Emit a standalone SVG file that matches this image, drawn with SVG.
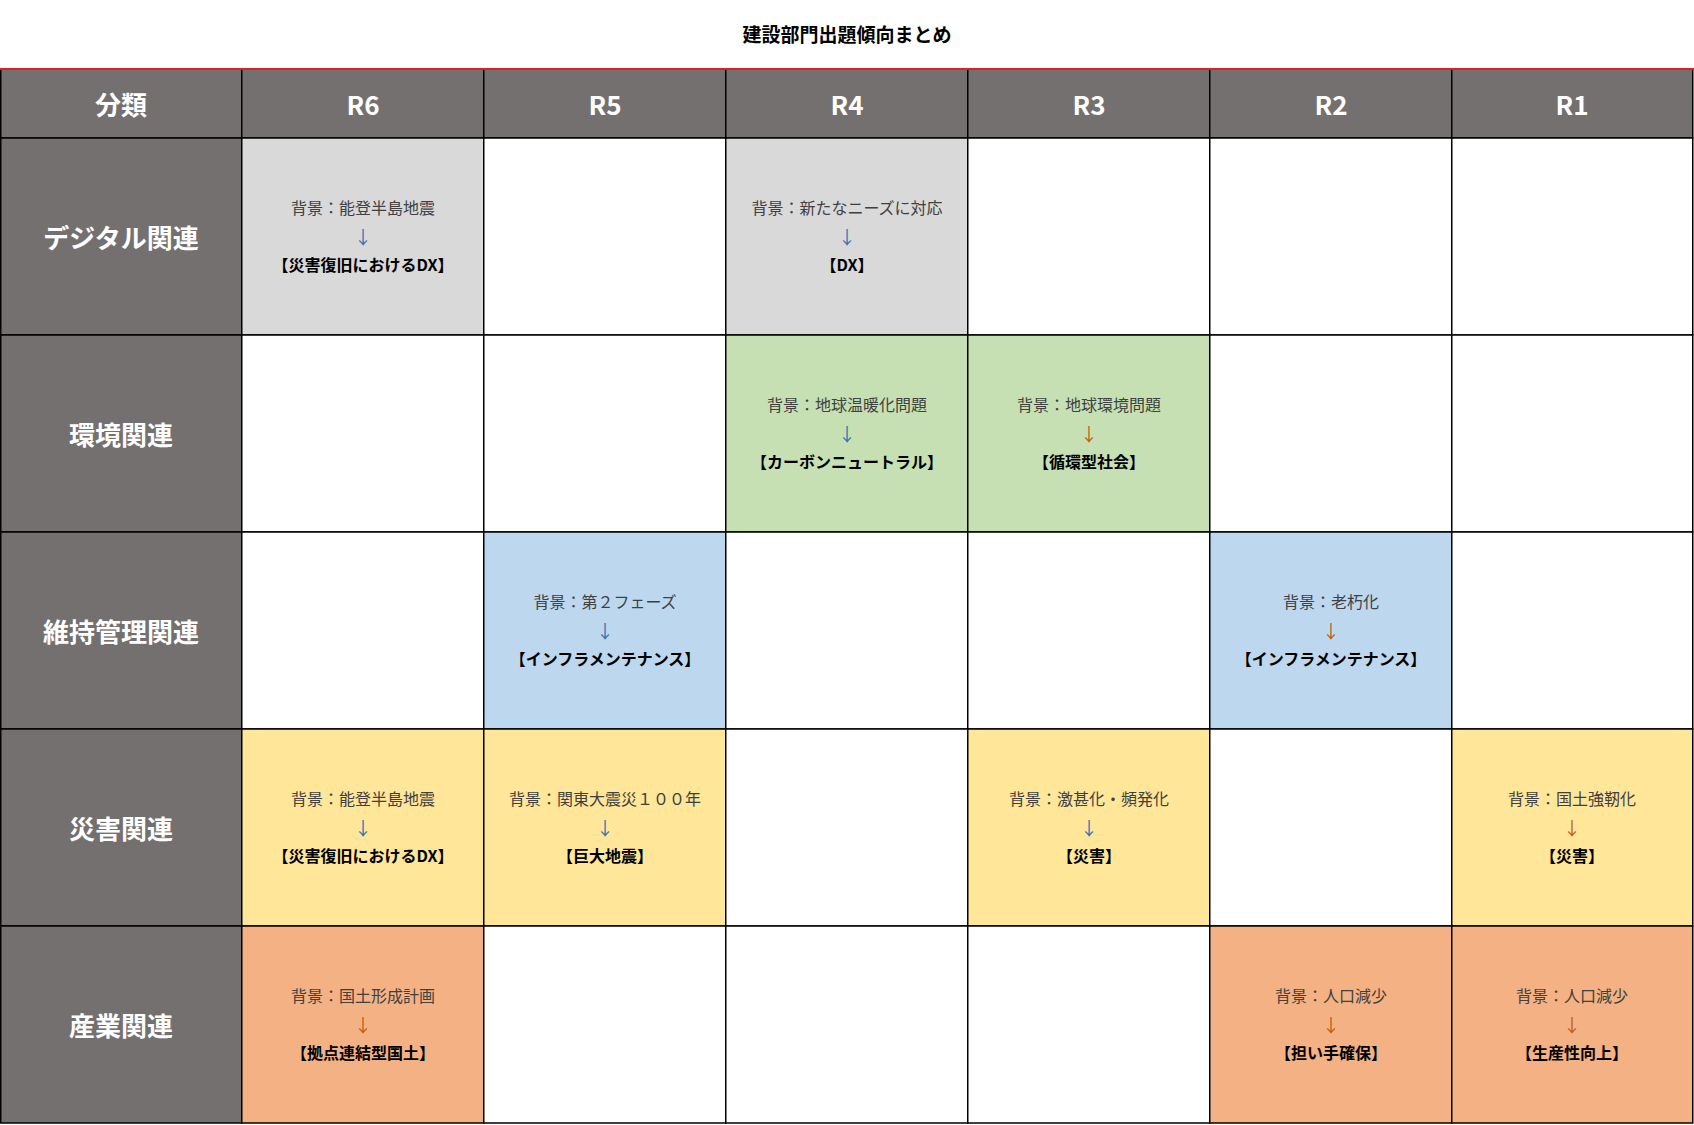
<svg xmlns="http://www.w3.org/2000/svg" width="1694" height="1125" viewBox="0 0 1694 1125">
<style>
text{font-family:"Noto Sans CJK JP","Noto Sans",sans-serif;text-anchor:middle;dominant-baseline:central}
.h{fill:#757070;stroke:#000;stroke-width:1.5}
.c{stroke:#000;stroke-width:1.5}
.ht{fill:#fff;font-size:26px;font-weight:bold}
.bg{fill:#404040;font-size:16px}
.ab{fill:#2e75b6;font-size:18px}
.ao{fill:#c55a11;font-size:18px}
.k{fill:#000;font-size:16px;font-weight:bold}
.g{fill:#d9d9d9}.gr{fill:#c6e0b4}.b{fill:#bdd7ee}.y{fill:#ffe699}.o{fill:#f4b183}.w{fill:#fff}
</style>
<rect width="1694" height="1125" fill="#fff"/>
<text x="847" y="33" style="font-size:19px;font-weight:bold;fill:#000">建設部門出題傾向まとめ</text>
<g id="header">
<rect class="h" x="0.75" y="69" width="241" height="69"/><text class="ht" x="121" y="103">分類</text>
<rect class="h" x="241.75" y="69" width="242" height="69"/><text class="ht" x="363" y="103">R6</text>
<rect class="h" x="483.75" y="69" width="242" height="69"/><text class="ht" x="605" y="103">R5</text>
<rect class="h" x="725.75" y="69" width="242" height="69"/><text class="ht" x="847" y="103">R4</text>
<rect class="h" x="967.75" y="69" width="242" height="69"/><text class="ht" x="1089" y="103">R3</text>
<rect class="h" x="1209.75" y="69" width="242" height="69"/><text class="ht" x="1331" y="103">R2</text>
<rect class="h" x="1451.75" y="69" width="241" height="69"/><text class="ht" x="1572" y="103">R1</text>
<line x1="0" y1="69" x2="1694" y2="69" stroke="#e02020" stroke-width="2"/>
</g>
<g id="rowlabels">
<rect class="h" x="0.75" y="138" width="241" height="197"/><text class="ht" x="121" y="236">デジタル関連</text>
<rect class="h" x="0.75" y="335" width="241" height="197"/><text class="ht" x="121" y="433">環境関連</text>
<rect class="h" x="0.75" y="532" width="241" height="197"/><text class="ht" x="121" y="630">維持管理関連</text>
<rect class="h" x="0.75" y="729" width="241" height="197"/><text class="ht" x="121" y="827">災害関連</text>
<rect class="h" x="0.75" y="926" width="241" height="197"/><text class="ht" x="121" y="1024">産業関連</text>
</g>
<g id="cells">
<!-- row 1 -->
<rect class="c g" x="241.75" y="138" width="242" height="197"/>
<rect class="c w" x="483.75" y="138" width="242" height="197"/>
<rect class="c g" x="725.75" y="138" width="242" height="197"/>
<rect class="c w" x="967.75" y="138" width="242" height="197"/>
<rect class="c w" x="1209.75" y="138" width="242" height="197"/>
<rect class="c w" x="1451.75" y="138" width="241" height="197"/>
<!-- row 2 -->
<rect class="c w" x="241.75" y="335" width="242" height="197"/>
<rect class="c w" x="483.75" y="335" width="242" height="197"/>
<rect class="c gr" x="725.75" y="335" width="242" height="197"/>
<rect class="c gr" x="967.75" y="335" width="242" height="197"/>
<rect class="c w" x="1209.75" y="335" width="242" height="197"/>
<rect class="c w" x="1451.75" y="335" width="241" height="197"/>
<!-- row 3 -->
<rect class="c w" x="241.75" y="532" width="242" height="197"/>
<rect class="c b" x="483.75" y="532" width="242" height="197"/>
<rect class="c w" x="725.75" y="532" width="242" height="197"/>
<rect class="c w" x="967.75" y="532" width="242" height="197"/>
<rect class="c b" x="1209.75" y="532" width="242" height="197"/>
<rect class="c w" x="1451.75" y="532" width="241" height="197"/>
<!-- row 4 -->
<rect class="c y" x="241.75" y="729" width="242" height="197"/>
<rect class="c y" x="483.75" y="729" width="242" height="197"/>
<rect class="c w" x="725.75" y="729" width="242" height="197"/>
<rect class="c y" x="967.75" y="729" width="242" height="197"/>
<rect class="c w" x="1209.75" y="729" width="242" height="197"/>
<rect class="c y" x="1451.75" y="729" width="241" height="197"/>
<!-- row 5 -->
<rect class="c o" x="241.75" y="926" width="242" height="197"/>
<rect class="c w" x="483.75" y="926" width="242" height="197"/>
<rect class="c w" x="725.75" y="926" width="242" height="197"/>
<rect class="c w" x="967.75" y="926" width="242" height="197"/>
<rect class="c o" x="1209.75" y="926" width="242" height="197"/>
<rect class="c o" x="1451.75" y="926" width="241" height="197"/>
</g>
<g id="r1">
<text class="bg" x="363" y="207">背景：能登半島地震</text><text class="ab" x="363" y="236">↓</text><text class="k" x="363" y="264">【災害復旧におけるDX】</text>
<text class="bg" x="847" y="207">背景：新たなニーズに対応</text><text class="ab" x="847" y="236">↓</text><text class="k" x="847" y="264">【DX】</text>
</g>
<g id="r2">
<text class="bg" x="847" y="404">背景：地球温暖化問題</text><text class="ab" x="847" y="433">↓</text><text class="k" x="847" y="461">【カーボンニュートラル】</text>
<text class="bg" x="1089" y="404">背景：地球環境問題</text><text class="ao" x="1089" y="433">↓</text><text class="k" x="1089" y="461">【循環型社会】</text>
</g>
<g id="r3">
<text class="bg" x="605" y="601">背景：第２フェーズ</text><text class="ab" x="605" y="630">↓</text><text class="k" x="605" y="658">【インフラメンテナンス】</text>
<text class="bg" x="1331" y="601">背景：老朽化</text><text class="ao" x="1331" y="630">↓</text><text class="k" x="1331" y="658">【インフラメンテナンス】</text>
</g>
<g id="r4">
<text class="bg" x="363" y="798">背景：能登半島地震</text><text class="ab" x="363" y="827">↓</text><text class="k" x="363" y="855">【災害復旧におけるDX】</text>
<text class="bg" x="605" y="798">背景：関東大震災１００年</text><text class="ab" x="605" y="827">↓</text><text class="k" x="605" y="855">【巨大地震】</text>
<text class="bg" x="1089" y="798">背景：激甚化・頻発化</text><text class="ab" x="1089" y="827">↓</text><text class="k" x="1089" y="855">【災害】</text>
<text class="bg" x="1572" y="798">背景：国土強靭化</text><text class="ao" x="1572" y="827">↓</text><text class="k" x="1572" y="855">【災害】</text>
</g>
<g id="r5">
<text class="bg" x="363" y="995">背景：国土形成計画</text><text class="ao" x="363" y="1024">↓</text><text class="k" x="363" y="1052">【拠点連結型国土】</text>
<text class="bg" x="1331" y="995">背景：人口減少</text><text class="ao" x="1331" y="1024">↓</text><text class="k" x="1331" y="1052">【担い手確保】</text>
<text class="bg" x="1572" y="995">背景：人口減少</text><text class="ao" x="1572" y="1024">↓</text><text class="k" x="1572" y="1052">【生産性向上】</text>
</g>
</svg>
